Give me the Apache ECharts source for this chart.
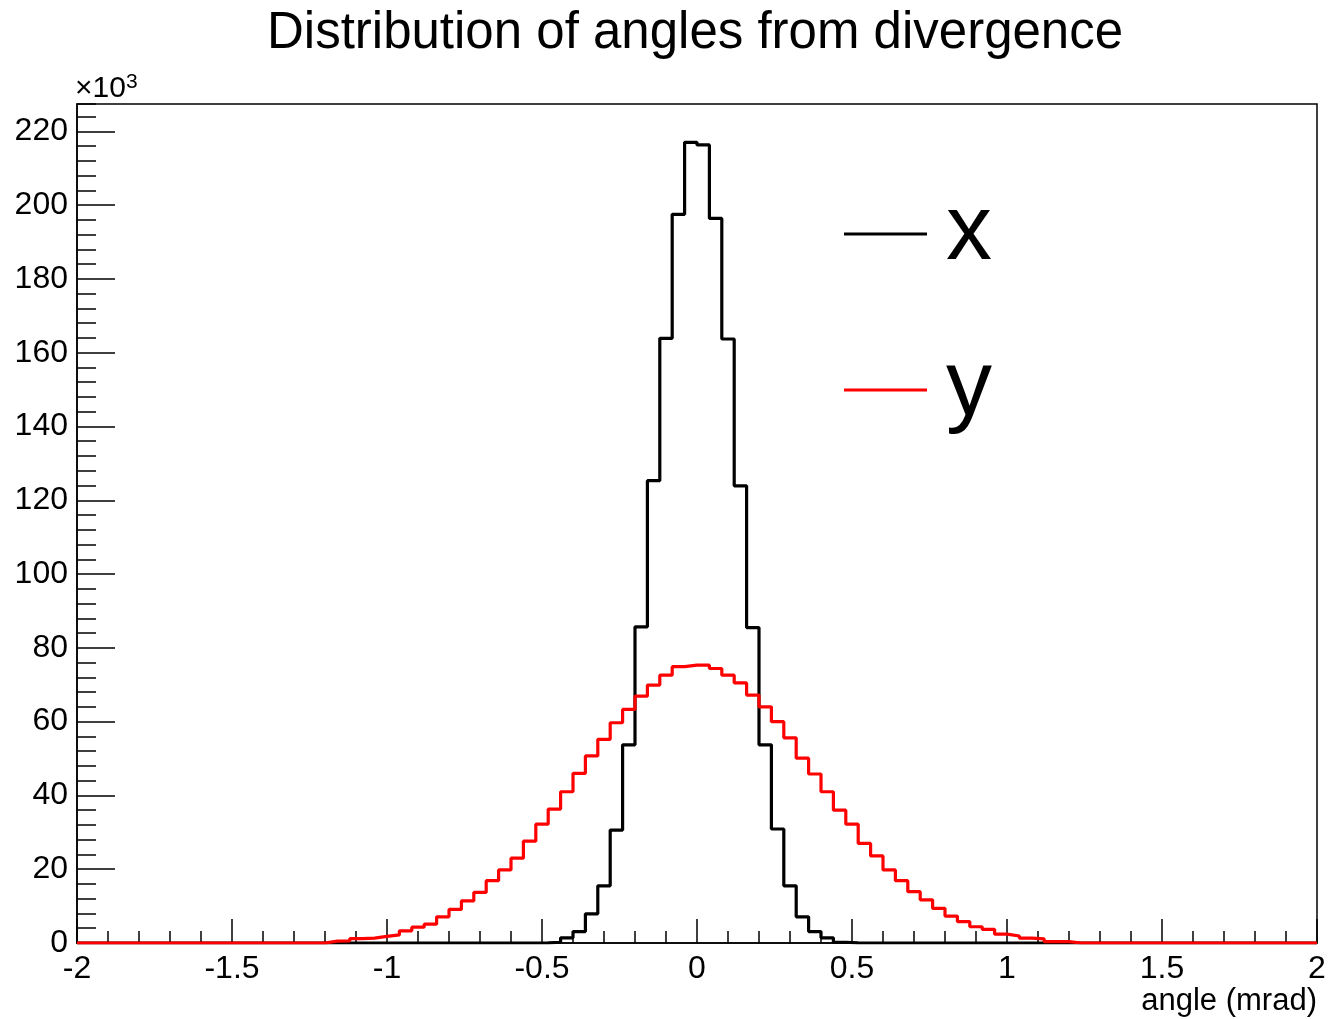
<!DOCTYPE html>
<html><head><meta charset="utf-8">
<script src="https://cdn.jsdelivr.net/npm/echarts@6/dist/echarts.min.js"></script>
<style>html,body{margin:0;padding:0;background:#fff}#c{width:1331px;height:1019px}</style>
</head><body><div id="c"></div>
<script>
// Histogram binning: 100 bins from -2 to 2 mrad
const binLow = -2;
const binWidth = 0.04;
const nBins = 100;

// Bin contents (in units of 10^3), series "x" (black)
const xCounts = [
  0,0,0,0,0,0,0,0,0,0,
  0,0,0,0,0,0,0,0,0,0,
  0,0,0,0,0,0,0,0,0,0,
  0,0,0,0,0,0,0,0.05,0.2,1.4,
  3.1,7.9,15.5,30.6,53.7,85.7,125.3,163.9,197.5,217.0,
  216.3,196.4,163.7,123.9,85.5,53.7,30.9,15.5,7.1,3.1,
  1.4,0.2,0.05,0,0,0,0,0,0,0,
  0,0,0,0,0,0,0,0,0,0,
  0,0,0,0,0,0,0,0,0,0,
  0,0,0,0,0,0,0,0,0,0
];

// Bin contents (in units of 10^3), series "y" (red)
const yCounts = [
  0,0,0,0,0,0,0,0,0,0,
  0,0,0,0,0,0,0,0,0,0,
  0.5,0.6,1.2,1.3,1.8,2.2,3.3,4.3,5.1,7.1,
  9.1,11.4,13.7,16.9,19.8,23.0,27.6,32.2,36.3,41.0,
  46.0,50.7,55.2,59.7,63.3,66.9,69.9,72.6,74.9,75.3,
  75.3,74.4,72.6,70.5,67.2,64.0,60.0,55.6,50.1,45.8,
  41.0,36.0,32.2,27.0,23.6,19.8,16.9,13.9,11.7,9.4,
  7.3,5.8,4.4,3.7,2.4,1.9,1.3,1.1,0.35,0.35,
  0,0,0,0,0,0,0,0,0,0,
  0,0,0,0,0,0,0,0,0,0
];

const seriesNames = ['x', 'y'];
const titleText = 'Distribution of angles from divergence';
const xAxisTitle = 'angle (mrad)';

function toSteps(counts) {
  const pts = counts.map((v, i) => [+(binLow + i * binWidth).toFixed(2), v]);
  pts.push([+(binLow + nBins * binWidth).toFixed(2), counts[nBins - 1]]);
  return pts;
}

const FONT = '"Liberation Sans", Arial, Helvetica, sans-serif';
const chart = echarts.init(document.getElementById('c'), null, {renderer: 'canvas'});
chart.setOption({
  animation: false,
  backgroundColor: '#fff',
  textStyle: {fontFamily: FONT, color: '#000'},
  title: {
    text: titleText, left: 267, top: 8, padding: 0,
    textStyle: {fontFamily: FONT, fontSize: 51, fontWeight: 'normal', color: '#000'}
  },
  legend: {
    data: seriesNames, orient: 'vertical', left: 844, top: 188, padding: 0,
    icon: 'rect', itemWidth: 83, itemHeight: 3, itemGap: 64,
    textStyle: {fontFamily: FONT, fontSize: 92, color: '#000', padding: [0, 0, 0, 14]}
  },
  grid: {left: 77, right: 14, top: 104, bottom: 76, show: true, borderColor: '#000', borderWidth: 1.5, containLabel: false, outerBoundsMode: 'none'},
  xAxis: {
    type: 'value', min: -2, max: 2, interval: 0.5, position: 'bottom',
    name: xAxisTitle, nameLocation: 'end', nameGap: 0,
    nameTextStyle: {fontFamily: FONT, fontSize: 31, color: '#000', align: 'right', verticalAlign: 'top', padding: [43, 0, 0, 0]},
    axisLine: {show: true, onZero: false, lineStyle: {color: '#000', width: 1.5}},
    axisTick: {show: true, inside: true, length: 24, lineStyle: {color: '#000', width: 1.5}},
    minorTick: {show: true, splitNumber: 5, length: 12, lineStyle: {color: '#000', width: 1.5}},
    axisLabel: {fontFamily: FONT, fontSize: 32, color: '#000', margin: 10},
    splitLine: {show: false}
  },
  yAxis: [{
    type: 'value', min: 0, max: 227.4, interval: 20, position: 'left',
    name: '{a|×10}{b|3}', nameLocation: 'end', nameGap: 0,
    nameTextStyle: {align: 'left', fontSize: 30, padding: [0, 0, 0, -2], rich: {
      a: {fontFamily: FONT, fontSize: 30, color: '#000', lineHeight: 32, verticalAlign: 'bottom'},
      b: {fontFamily: FONT, fontSize: 21, color: '#000', lineHeight: 32, verticalAlign: 'top'}
    }},
    axisLine: {show: true, onZero: false, lineStyle: {color: '#000', width: 1.5}},
    axisTick: {show: true, inside: true, length: 38, lineStyle: {color: '#000', width: 1.5}},
    axisLabel: {fontFamily: FONT, fontSize: 32, color: '#000', margin: 9, showMaxLabel: false,
      formatter: v => (Math.abs(v % 20) < 1e-6 ? String(v) : '')},
    splitLine: {show: false}
  }, {
    type: 'value', min: 0, max: 227.4, interval: 4, position: 'left', offset: 0,
    axisLine: {show: false, onZero: false},
    axisTick: {show: true, inside: true, length: 19, lineStyle: {color: '#000', width: 1.5}},
    axisLabel: {show: false},
    splitLine: {show: false}
  }],
  series: [
    {name: seriesNames[0], type: 'line', step: 'end', symbol: 'none', yAxisIndex: 0,
     data: toSteps(xCounts), lineStyle: {color: '#000', width: 3.2}, itemStyle: {color: '#000'}},
    {name: seriesNames[1], type: 'line', step: 'end', symbol: 'none', yAxisIndex: 0,
     data: toSteps(yCounts), lineStyle: {color: '#ff0000', width: 3.2}, itemStyle: {color: '#ff0000'}}
  ]
});
</script></body></html>
